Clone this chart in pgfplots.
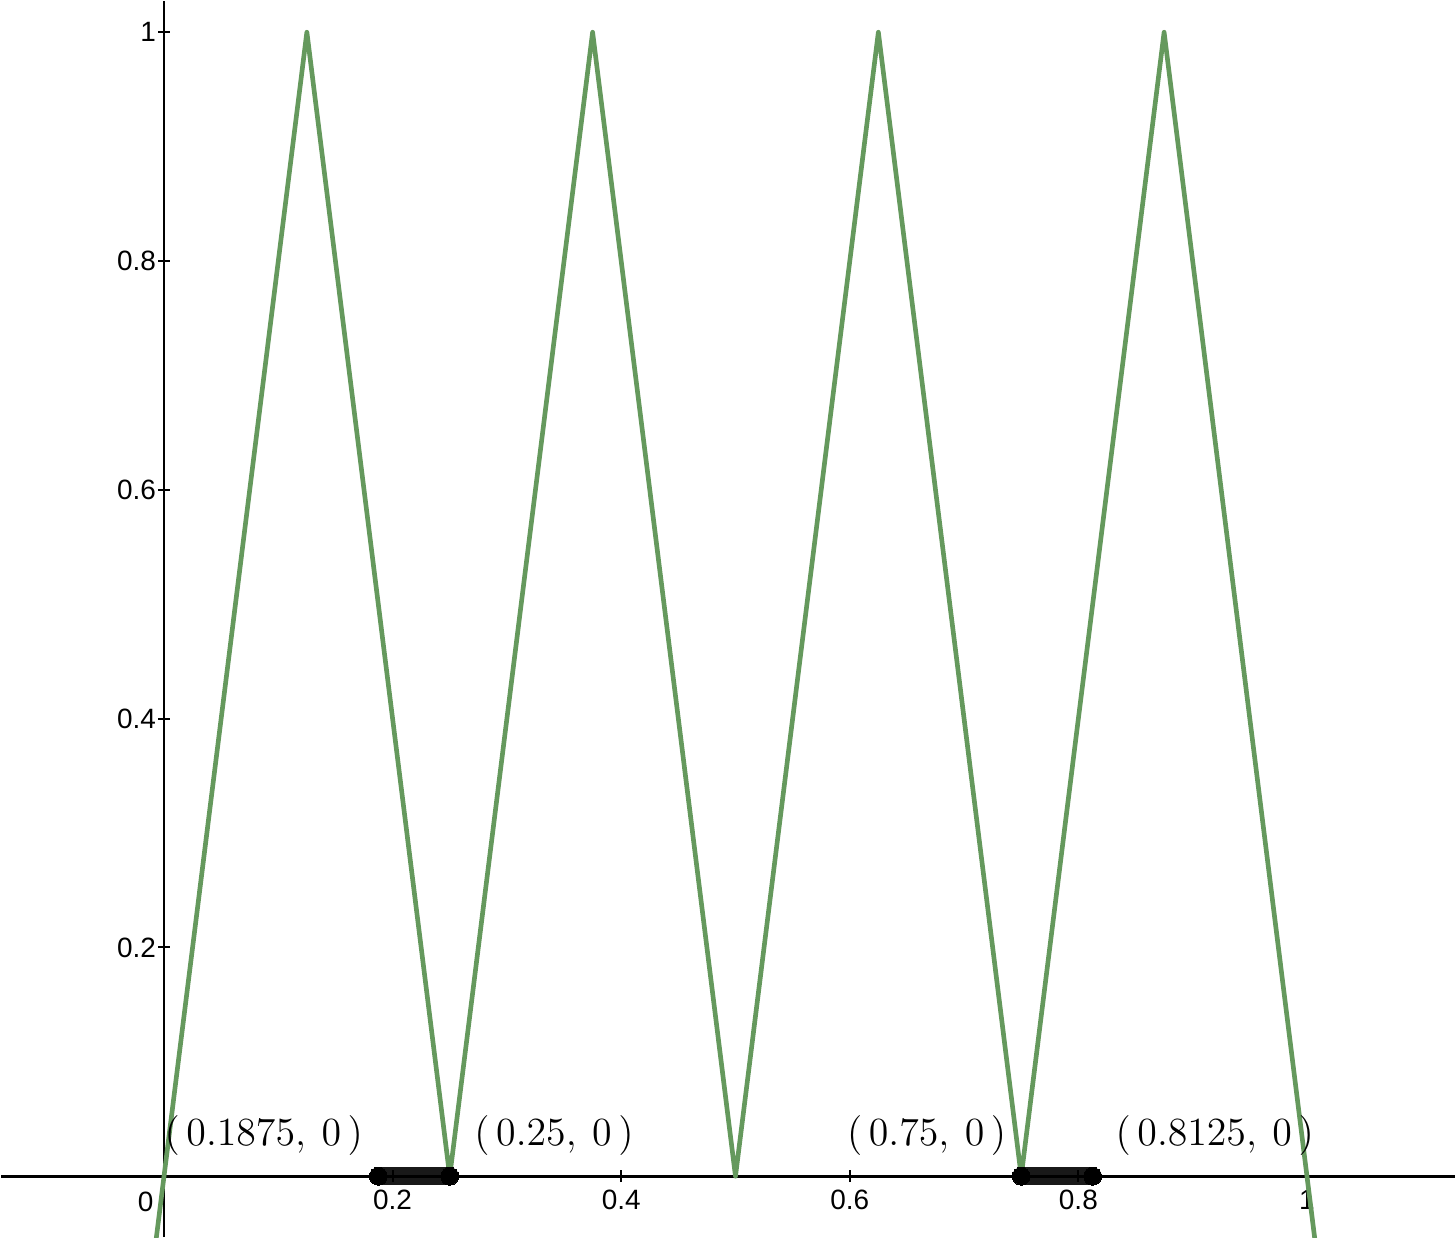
\documentclass[border=0pt]{standalone}
\usepackage{pgfplots}
\pgfplotsset{compat=1.18}
\usepackage{fontspec}
\newfontfamily\arialfont{Liberation Sans}
\definecolor{ggreen}{RGB}{101,153,93}
\newcommand{\pt}[2]{$\bigl(\,#1,\:#2\,\bigr)$}
\begin{document}
\begin{tikzpicture}
\begin{axis}[
 scale only axis, width=436.8pt, height=371.4pt,
 xmin=-0.1424, xmax=1.1293, ymin=-0.0532, ymax=1.0271,
 axis lines=middle, axis line style={-, line width=0.75pt, black},
 xtick={0.2,0.4,0.6,0.8,1}, ytick={0.2,0.4,0.6,0.8,1},
 tick align=center, major tick length=3.6pt, tick style={line width=0.6pt, black},
 ticklabel style={font=\arialfont\fontsize{8.4}{9}\selectfont},
 /pgf/number format/assume math mode=true,
 xticklabel style={anchor=north, inner sep=0pt, yshift=-2.2pt},
 yticklabel style={anchor=east, inner sep=0pt, xshift=-0.4pt},
 clip=true,
]
\addplot[ggreen, line width=1.4pt, line join=round] coordinates {
(-0.012,-0.096) (0.125,1) (0.25,0) (0.375,1) (0.5,0) (0.625,1) (0.75,0) (0.875,1) (1.012,-0.096)};
\addplot[black, opacity=0.9, line width=5.4pt, mark=*, mark size=2.7pt, mark options={opacity=1, line width=0pt}] coordinates {(0.1875,0) (0.25,0)};
\addplot[black, opacity=0.9, line width=5.4pt, mark=*, mark size=2.7pt, mark options={opacity=1, line width=0pt}] coordinates {(0.75,0) (0.8125,0)};
\node[anchor=north east, inner sep=0pt, font=\arialfont\fontsize{8.4}{9}\selectfont] at (axis cs:0,0) [xshift=-3pt, yshift=-4.5pt] {0};
\node[anchor=base west, inner sep=0pt, font=\fontsize{11.5}{14}\selectfont] at (axis cs:0,0.027) {\pt{0.1875}{0}};
\node[anchor=base west, inner sep=0pt, font=\fontsize{11.5}{14}\selectfont] at (axis cs:0.271,0.027) {\pt{0.25}{0}};
\node[anchor=base west, inner sep=0pt, font=\fontsize{11.5}{14}\selectfont] at (axis cs:0.597,0.027) {\pt{0.75}{0}};
\node[anchor=base west, inner sep=0pt, font=\fontsize{11.5}{14}\selectfont] at (axis cs:0.832,0.027) {\pt{0.8125}{0}};
\end{axis}
\end{tikzpicture}
\end{document}
